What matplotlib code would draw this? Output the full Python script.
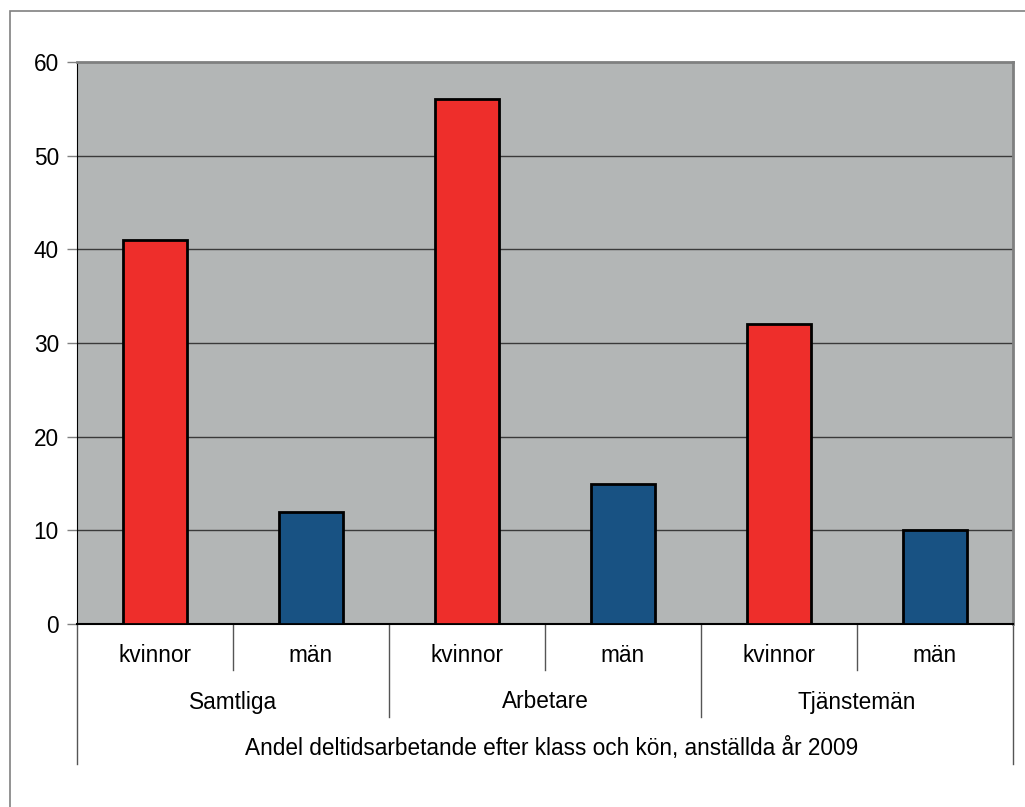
import matplotlib.pyplot as plt
from matplotlib.patches import Rectangle
from matplotlib.lines import Line2D
import matplotlib.transforms as mtransforms

plt.rcParams['font.family'] = ['Liberation Sans', 'DejaVu Sans']

groups = ['Samtliga', 'Arbetare', 'Tjänstemän']
sexes = ['kvinnor', 'män']
values = [41, 12, 56, 15, 32, 10]
title = 'Andel deltidsarbetande efter klass och kön, anställda år 2009'

red = '#ee2e2b'
blue = '#185283'
colors = [red, blue] * len(groups)
fs = 16.3

W, H = 1025, 807
fig = plt.figure(figsize=(W / 100, H / 100), dpi=100)

# outer chart border (runs off the right and bottom edges)
fig.patches.append(Rectangle((10 / W, -0.1), 1.2, 1 - 11 / H + 0.1,
                             transform=fig.transFigure, fill=False,
                             edgecolor='#808080', linewidth=1.2))

left, right, top, bottom = 77, 1013, 62, 624
ax = fig.add_axes([left / W, 1 - bottom / H, (right - left) / W, (bottom - top) / H])
ax.set_facecolor('#b3b6b6')

x = list(range(len(values)))
ax.bar(x, values, width=0.41, color=colors, edgecolor='black', linewidth=2, zorder=3)

ax.set_xlim(-0.5, len(values) - 0.5)
ax.set_ylim(0, 60)
ax.set_yticks(range(0, 61, 10))
ax.tick_params(axis='y', labelsize=fs, length=7, width=1, color='#808080', pad=6)
ax.set_xticks([])

for yv in range(10, 60, 10):
    ax.axhline(yv, color='#3a3a3a', linewidth=1, zorder=1)

ax.spines['left'].set_color('black')
ax.spines['bottom'].set_color('black')
ax.spines['bottom'].set_linewidth(1.5)
for s in ('top', 'right'):
    ax.spines[s].set_color('#7f8080')
    ax.spines[s].set_linewidth(2)

# multi-level category axis below the plot
trans = mtransforms.blended_transform_factory(ax.transData, ax.transAxes)
ph = bottom - top


def ypos(py):
    return (bottom - py) / ph


def vline(xv, py):
    ax.add_line(Line2D([xv, xv], [0, ypos(py)], transform=trans, color='#555555',
                       linewidth=1, clip_on=False))


for i, v in enumerate(values):
    ax.text(i, ypos(656), sexes[i % 2], transform=trans, ha='center', va='center', fontsize=fs)
for i in range(1, len(values)):
    vline(i - 0.5, 670 if i % 2 else 717)
for g, name in enumerate(groups):
    ax.text(2 * g + 0.5, ypos(702), name, transform=trans, ha='center', va='center', fontsize=fs)
vline(-0.5, 764)
vline(len(values) - 0.5, 764)
ax.text((len(values) - 1) / 2 + 0.045, ypos(748), title, transform=trans, ha='center',
        va='center', fontsize=fs)

fig.savefig('out.png', dpi=100)
